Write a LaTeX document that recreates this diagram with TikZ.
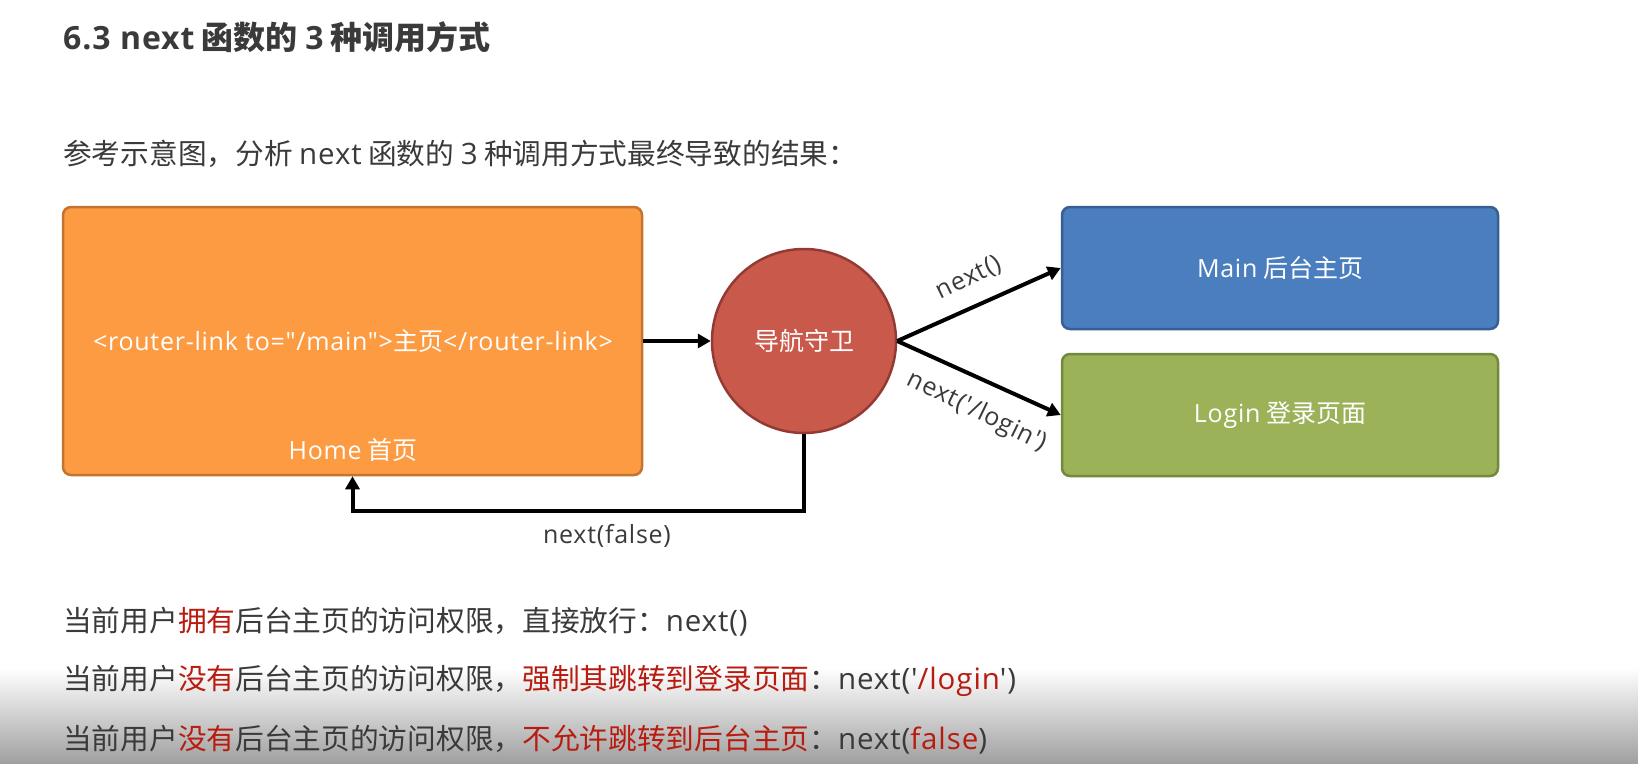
\documentclass[tikz,border=0pt]{standalone}
\usepackage{fontspec}
\setmainfont{Noto Sans CJK SC}[Ligatures=TeXOff]
\newfontfamily\latfont{Open Sans}[Ligatures=TeXOff, LetterSpace=3]
\newcommand{\latn}[1]{{\latfont #1}}
\newcommand{\latb}[1]{{\latfont\fontsize{29.5}{34}\selectfont #1}}
\usetikzlibrary{arrows.meta}
\definecolor{txt}{HTML}{3A3A3A}
\definecolor{hl}{HTML}{B81C10}
\definecolor{orf}{HTML}{FD9B42}
\definecolor{orb}{HTML}{C4742F}
\definecolor{ref}{HTML}{C9594A}
\definecolor{reb}{HTML}{943A34}
\definecolor{blf}{HTML}{4A7EBE}
\definecolor{blb}{HTML}{385F94}
\definecolor{grf}{HTML}{9BB259}
\definecolor{grb}{HTML}{718A3C}
\definecolor{shd}{HTML}{A0A0A0}
\definecolor{shm}{HTML}{E2E2E2}
\begin{document}
\begin{tikzpicture}[x=1pt,y=-1pt,
  box/.style={draw, line width=2.5pt, rounded corners=8pt, inner sep=0pt},
  wt/.style={text=white, font=\fontsize{25}{29}\selectfont, inner sep=0pt},
  lbl/.style={text=txt, font=\fontsize{25}{29}\selectfont, inner sep=0pt},
  body/.style={text=txt, font=\fontsize{28.7}{34}\selectfont, anchor=west, inner sep=0pt},
  arr/.style={line width=4pt, -{Triangle[length=13pt,width=14pt]}, line join=miter}
]
\useasboundingbox (0,0) rectangle (1638,763);
\fill[white] (0,0) rectangle (1638,763);
\shade[top color=white, middle color=shm, bottom color=shd] (0,668) rectangle (1638,763);

\node[body, font=\fontsize{32}{38}\selectfont\bfseries] (title) at (63,37) {\latn{6.3 next} 函数的 \latn{3} 种调用方式};
\node[body] (sub) at (63,154) {参考示意图，分析 \latb{next} 函数的 \latb{3} 种调用方式最终导致的结果：};

\node[box, fill=orf, draw=orb, minimum width=579pt, minimum height=268pt] (home) at (352.5,341) {};
\node[wt] (homelink) at (353,341) {\latn{<router-link to="/main">}主页\latn{</router-link>}};
\node[wt] (hometitle) at (353,450) {\latn{Home} 首页};

\node[circle, fill=ref, draw=reb, line width=2.5pt, minimum size=184pt, inner sep=0pt, text=white, font=\fontsize{25}{29}\selectfont] (guard) at (804,341) {导航守卫};

\node[box, fill=blf, draw=blb, minimum width=436pt, minimum height=122pt, text=white, font=\fontsize{25}{29}\selectfont] (main) at (1280,268) {\latn{Main} 后台主页};
\node[box, fill=grf, draw=grb, minimum width=436pt, minimum height=122pt, text=white, font=\fontsize{25}{29}\selectfont] (login) at (1280,415) {\latn{Login} 登录页面};

\draw[arr] (home.east) -- (guard.west);
\draw[arr] (guard.east) -- (main.west);
\draw[arr] (guard.east) -- (login.west);
\draw[arr] (guard.south) -- ++(0,77) -| (home.south);

\node[lbl, rotate=26] (l1) at (969,278) {\latn{next()}};
\node[lbl, rotate=-26] (l2) at (977,412) {\latn{next('/login')}};
\node[lbl] (l3) at (607,536) {\latn{next(false)}};

\node[body] (b1) at (63,622) {当前用户\textcolor{hl}{拥有}后台主页的访问权限，直接放行：\latb{next()}};
\node[body] (b2) at (63,681) {当前用户\textcolor{hl}{没有}后台主页的访问权限，\textcolor{hl}{强制其跳转到登录页面}：\latb{next('\textcolor{hl}{/login}')}};
\node[body] (b3) at (63,740) {当前用户\textcolor{hl}{没有}后台主页的访问权限，\textcolor{hl}{不允许跳转到后台主页}：\latb{next(\textcolor{hl}{false})}};
\end{tikzpicture}
\end{document}
